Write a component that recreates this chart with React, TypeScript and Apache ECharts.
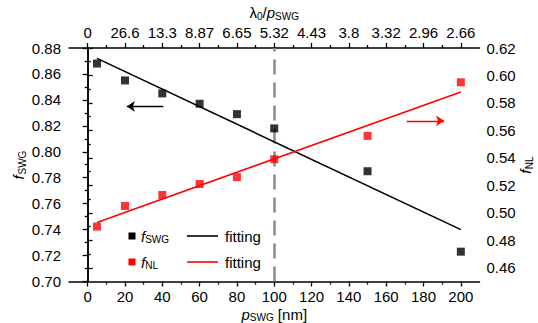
import React, { useEffect, useRef } from "react";
import * as echarts from "echarts";

// ---- data ----
const pSWG = [5, 20, 40, 60, 80, 100, 150, 200];
const fSWG = [0.868, 0.855, 0.845, 0.837, 0.829, 0.818, 0.785, 0.723];
const fNL = [0.490, 0.505, 0.513, 0.521, 0.526, 0.539, 0.556, 0.595];
const fitSWGx = [5, 200];
const fitSWGy = [0.872, 0.740];
const fitNLx = [5, 200];
const fitNLy = [0.493, 0.588];
const markerX = 100;

// ticks
const bottomMajor = [0, 20, 40, 60, 80, 100, 120, 140, 160, 180, 200];
const bottomMinor = [10, 30, 50, 70, 90, 110, 130, 150, 170, 190];
const topLabels = ["0", "26.6", "13.3", "8.87", "6.65", "5.32", "4.43", "3.8", "3.32", "2.96", "2.66"];
const rightMajor = [0.46, 0.48, 0.5, 0.52, 0.54, 0.56, 0.58, 0.6, 0.62];
const rightMinor = [0.47, 0.49, 0.51, 0.53, 0.55, 0.57, 0.59, 0.61];

const FONT = "'Liberation Sans', Arial, sans-serif";
const FS = 15;

const rich = {
  i: { fontStyle: "italic" as const, fontSize: FS, fontFamily: FONT, color: "#000" },
  n: { fontSize: FS, fontFamily: FONT, color: "#000" },
  s: { fontSize: 10, fontFamily: FONT, color: "#000", padding: [7, 0, 0, 0] },
};

function vTitle(cx: number, cy: number, sub: string, fStart: number, subStart: number) {
  return {
    type: "group",
    x: cx,
    y: cy,
    rotation: Math.PI / 2,
    children: [
      {
        type: "text",
        x: fStart,
        y: 0,
        style: { text: "f", fill: "#000", font: `italic ${FS}px ${FONT}`, verticalAlign: "middle", align: "left" },
      },
      {
        type: "text",
        x: subStart,
        y: 4,
        style: { text: sub, fill: "#000", font: `10px ${FONT}`, verticalAlign: "middle", align: "left" },
      },
    ],
  };
}

export default function App() {
  const ref = useRef<HTMLDivElement>(null);
  useEffect(() => {
    if (!ref.current) return;
    const chart = echarts.init(ref.current, null, { renderer: "svg" });
    const axisLine = { show: true, lineStyle: { color: "#000", width: 1.5 } };
    const labelStyle = { color: "#000", fontSize: FS, fontFamily: FONT };
    const baseX = { type: "value" as const, min: -10, max: 210, splitLine: { show: false } };
    const option: any = {
      animation: false,
      backgroundColor: "#fff",
      grid: { left: 69, right: 58.5, top: 48, bottom: 41.5, containLabel: false, outerBoundsMode: "none" },
      xAxis: [
        {
          ...baseX,
          position: "bottom",
          axisLine,
          axisTick: { show: true, customValues: bottomMajor, length: 5, lineStyle: { color: "#000", width: 1.3 } },
          axisLabel: { customValues: bottomMajor, ...labelStyle, margin: 7 },
          name: "{i|p}{s|SWG}{n| [nm]}",
          nameLocation: "middle",
          nameGap: 24,
          nameMoveOverlap: false,
          nameTextStyle: { rich },
        },
        {
          ...baseX,
          position: "bottom",
          axisLine: { show: false },
          axisTick: { show: true, customValues: bottomMinor, length: 3, lineStyle: { color: "#000", width: 1.3 } },
          axisLabel: { show: false },
        },
        {
          ...baseX,
          position: "top",
          axisLine,
          axisTick: { show: true, customValues: bottomMajor, length: 5, lineStyle: { color: "#000", width: 1.3 } },
          axisLabel: {
            customValues: bottomMajor,
            ...labelStyle,
            margin: 8,
            formatter: (v: number) => topLabels[bottomMajor.indexOf(Math.round(v))] ?? "",
          },
          name: "{n|λ}{s|0}{n|/}{i|p}{s|SWG}",
          nameLocation: "middle",
          nameGap: 27,
          nameMoveOverlap: false,
          nameTextStyle: { rich },
        },
        {
          ...baseX,
          position: "top",
          axisLine: { show: false },
          axisTick: { show: true, customValues: bottomMinor, length: 3, lineStyle: { color: "#000", width: 1.3 } },
          axisLabel: { show: false },
        },
      ],
      yAxis: [
        {
          type: "value",
          position: "left",
          min: 0.7,
          max: 0.88,
          interval: 0.02,
          splitLine: { show: false },
          axisLine,
          axisTick: { show: true, length: 5, lineStyle: { color: "#000", width: 1.3 } },
          minorTick: { show: true, splitNumber: 2, length: 3, lineStyle: { color: "#000", width: 1.3 } },
          axisLabel: { ...labelStyle, margin: 8, formatter: (v: number) => v.toFixed(2) },
        },
        {
          type: "value",
          position: "right",
          min: 0.45,
          max: 0.62,
          splitLine: { show: false },
          axisLine,
          axisTick: { show: true, customValues: rightMajor, length: 5, lineStyle: { color: "#000", width: 1.3 } },
          axisLabel: { customValues: rightMajor, ...labelStyle, margin: 7, formatter: (v: number) => v.toFixed(2) },
        },
        {
          type: "value",
          position: "right",
          min: 0.45,
          max: 0.62,
          splitLine: { show: false },
          axisLine: { show: false },
          axisTick: { show: true, customValues: rightMinor, length: 3, lineStyle: { color: "#000", width: 1.3 } },
          axisLabel: { show: false },
        },
      ],
      series: [
        {
          name: "fSWG",
          type: "scatter",
          xAxisIndex: 0,
          yAxisIndex: 0,
          symbol: "rect",
          symbolSize: 8,
          itemStyle: { color: "#000" },
          data: pSWG.map((x, i) => [x, fSWG[i]]),
          z: 5,
          markLine: {
            silent: true,
            symbol: ["none", "none"],
            label: { show: false },
            lineStyle: { color: "#8a8a8a", width: 2.5, type: [15, 8] },
            data: [{ xAxis: markerX }],
            z: 1,
          },
        },
        {
          name: "fitSWG",
          type: "line",
          xAxisIndex: 0,
          yAxisIndex: 0,
          symbol: "none",
          lineStyle: { color: "#000", width: 1.6 },
          data: fitSWGx.map((x, i) => [x, fitSWGy[i]]),
          markLine: {
            silent: true,
            symbol: ["none", "arrow"],
            symbolSize: 8,
            label: { show: false },
            lineStyle: { color: "#000", width: 1.4, type: "solid" },
            data: [[{ coord: [40.5, 0.835] }, { coord: [21, 0.835] }]],
          },
        },
        {
          name: "fNL",
          type: "scatter",
          xAxisIndex: 0,
          yAxisIndex: 1,
          symbol: "rect",
          symbolSize: 8,
          itemStyle: { color: "#ff0000" },
          data: pSWG.map((x, i) => [x, fNL[i]]),
          z: 5,
        },
        {
          name: "fitNL",
          type: "line",
          xAxisIndex: 0,
          yAxisIndex: 1,
          symbol: "none",
          lineStyle: { color: "#ff0000", width: 1.6 },
          data: fitNLx.map((x, i) => [x, fitNLy[i]]),
          markLine: {
            silent: true,
            symbol: ["none", "arrow"],
            symbolSize: 8,
            label: { show: false },
            lineStyle: { color: "#ff0000", width: 1.4, type: "solid" },
            data: [[{ coord: [171, 0.567] }, { coord: [191, 0.567] }]],
          },
        },
      ],
      graphic: [
        vTitle(18, 165, "SWG", -14.5, -9.5),
        vTitle(525, 165, "NL", -8.8, -4.2),
        { type: "rect", shape: { x: 128.5, y: 232.5, width: 7, height: 7 }, style: { fill: "#000" } },
        {
          type: "text",
          x: 141,
          y: 236,
          style: { text: "{i|f}{s|SWG}", rich, verticalAlign: "middle", align: "left" },
        },
        { type: "line", shape: { x1: 187, y1: 236, x2: 218, y2: 236 }, style: { stroke: "#000", lineWidth: 1.6 } },
        {
          type: "text",
          x: 225,
          y: 236,
          style: { text: "fitting", fill: "#000", font: `${FS}px ${FONT}`, verticalAlign: "middle" },
        },
        { type: "rect", shape: { x: 128.5, y: 258.5, width: 7, height: 7 }, style: { fill: "#ff0000" } },
        {
          type: "text",
          x: 141,
          y: 262,
          style: { text: "{i|f}{s|NL}", rich, verticalAlign: "middle", align: "left" },
        },
        { type: "line", shape: { x1: 187, y1: 262, x2: 218, y2: 262 }, style: { stroke: "#ff0000", lineWidth: 1.6 } },
        {
          type: "text",
          x: 225,
          y: 262,
          style: { text: "fitting", fill: "#000", font: `${FS}px ${FONT}`, verticalAlign: "middle" },
        },
      ],
    };
    chart.setOption(option);
    return () => chart.dispose();
  }, []);
  return (
    <div
      ref={ref}
      style={{ position: "fixed", left: 0, top: 0, width: 538, height: 323, background: "#fff" }}
    />
  );
}
